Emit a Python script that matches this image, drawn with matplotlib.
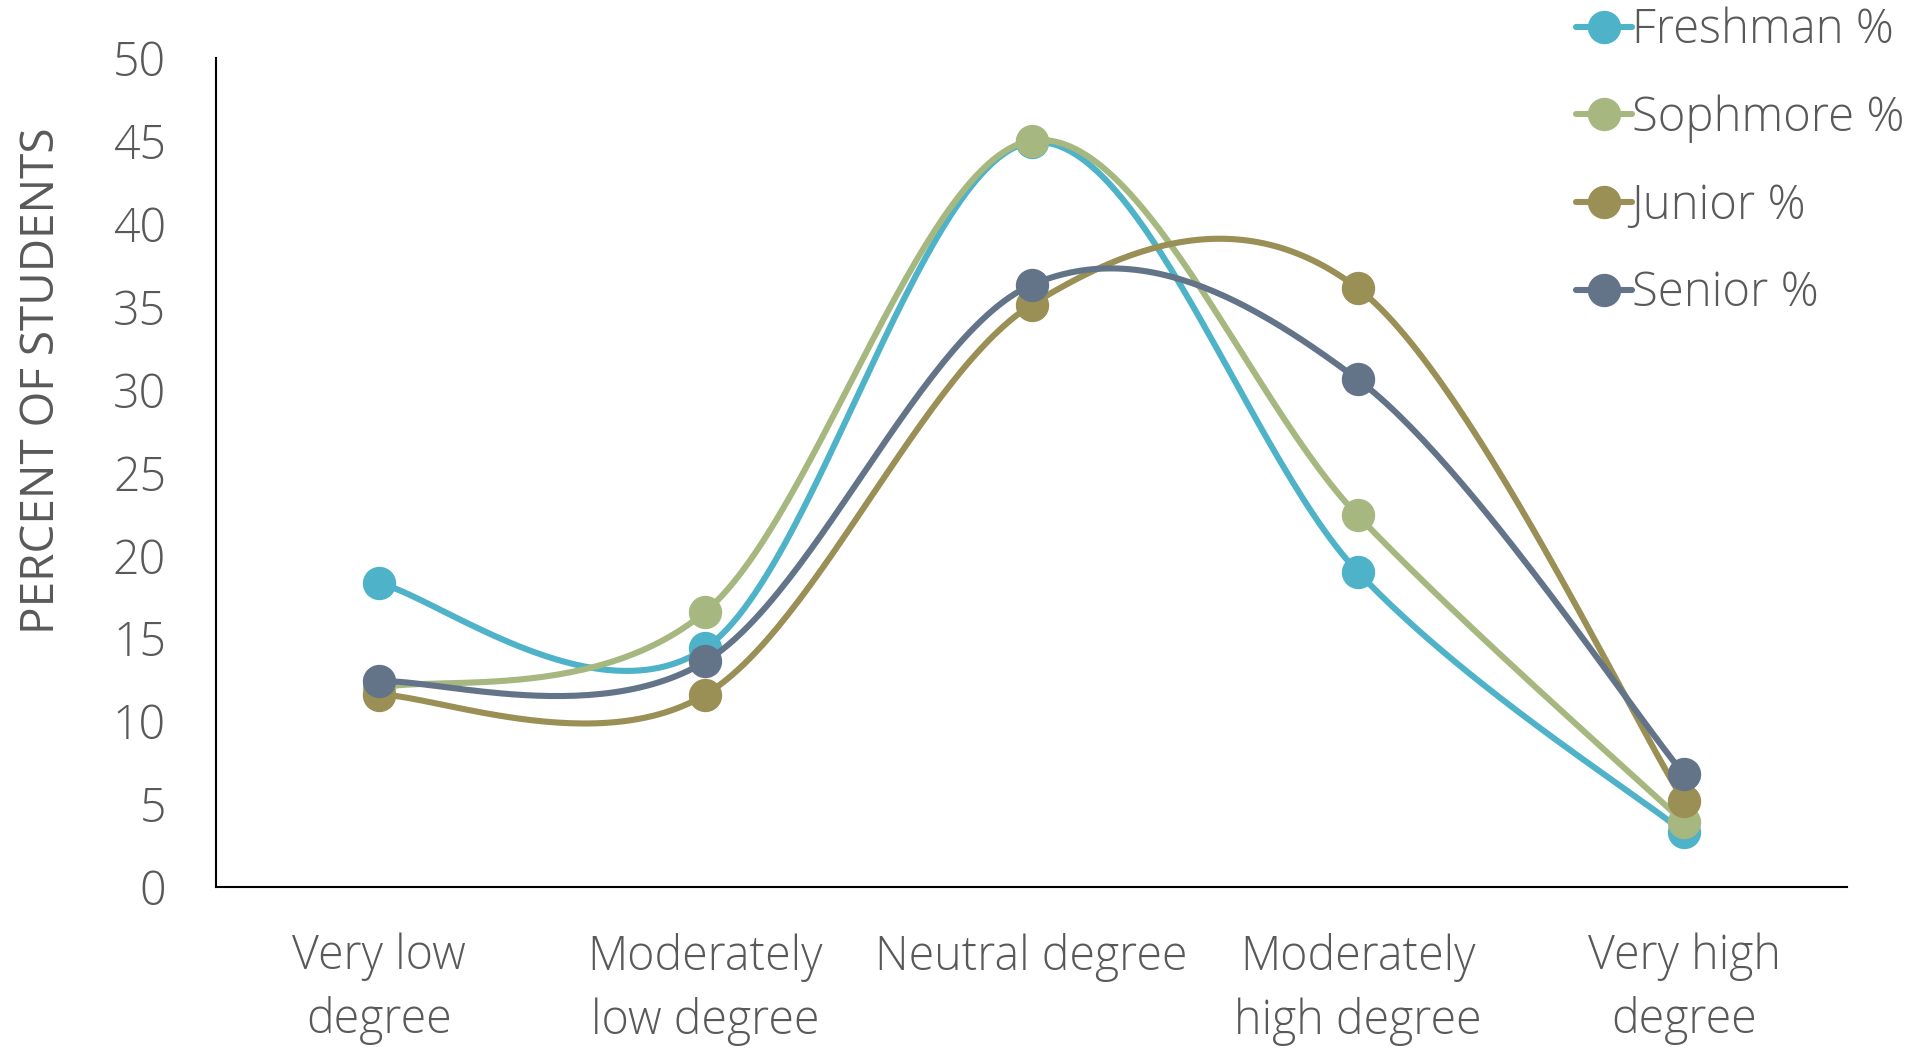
import numpy as np
import matplotlib
matplotlib.use("Agg")
from matplotlib import pyplot as plt
from matplotlib.lines import Line2D

categories = ["Very low\ndegree", "Moderately\nlow degree", "Neutral degree",
              "Moderately\nhigh degree", "Very high\ndegree"]
freshman = [18.3, 14.4, 44.9, 19.0, 3.3]
sophomore = [12.0, 16.6, 45.0, 22.4, 3.9]
junior = [11.6, 11.6, 35.1, 36.1, 5.2]
senior = [12.4, 13.6, 36.3, 30.6, 6.8]

series = [
    ("Freshman %", freshman, "#4EB3C8"),
    ("Sophmore %", sophomore, "#A6B87F"),
    ("Junior %", junior, "#9A8F55"),
    ("Senior %", senior, "#637489"),
]

TEXT = "#595959"
plt.rcParams['font.family'] = ['Open Sans', 'DejaVu Sans']
plt.rcParams['font.weight'] = 'light'


def smooth(xs, ys, n=60):
    # Catmull-Rom style bezier smoothing, like spreadsheet "smoothed line"
    pts = np.column_stack([xs, ys]).astype(float)
    out = []
    for i in range(len(pts) - 1):
        p0 = pts[max(i - 1, 0)]
        p1 = pts[i]
        p2 = pts[i + 1]
        p3 = pts[min(i + 2, len(pts) - 1)]
        c1 = p1 + (p2 - p0) / 6.0
        c2 = p2 - (p3 - p1) / 6.0
        t = np.linspace(0, 1, n)[:, None]
        seg = ((1 - t) ** 3) * p1 + 3 * ((1 - t) ** 2) * t * c1 \
            + 3 * (1 - t) * t ** 2 * c2 + t ** 3 * p2
        out.append(seg if i == 0 else seg[1:])
    out = np.vstack(out)
    return out[:, 0], out[:, 1]


fig = plt.figure(figsize=(19.24, 10.49), dpi=100)
ax = fig.add_axes([0.1123, 0.1544, 0.8477, 0.7906])

x = np.arange(len(categories))
handles = []
for name, vals, col in series:
    sx, sy = smooth(x, vals)
    ax.plot(sx, sy, color=col, lw=4.4, solid_capstyle='round')
    ax.plot(x, vals, 'o', color=col, ms=23, mec=col)
    handles.append(Line2D([0], [0], color=col, lw=4.4, marker='o', ms=23,
                          solid_capstyle='round', label=name))

ax.set_xlim(-0.5, 4.5)
ax.set_ylim(0, 50)
ax.set_yticks(np.arange(0, 51, 5))
ax.set_xticks(x)
ax.set_xticklabels(categories, linespacing=1.4)
ax.tick_params(axis='both', length=0, labelsize=33.5, labelcolor=TEXT)
ax.tick_params(axis='y', pad=36)
ax.tick_params(axis='x', pad=33)

for s in ['top', 'right']:
    ax.spines[s].set_visible(False)
for s in ['left', 'bottom']:
    ax.spines[s].set_color('black')
    ax.spines[s].set_linewidth(1.5)

ax.set_ylabel("PERCENT OF STUDENTS", fontsize=33, color=TEXT)
ax.yaxis.set_label_coords(-0.0926, 0.61)

fig.legend(handles=handles, loc='upper left', bbox_to_anchor=(0.807, 1.016),
           frameon=False, fontsize=34, labelcolor=TEXT, handlelength=1.17,
           handletextpad=0.0, labelspacing=0.83, borderpad=0)

fig.savefig("out.png", dpi=100)
